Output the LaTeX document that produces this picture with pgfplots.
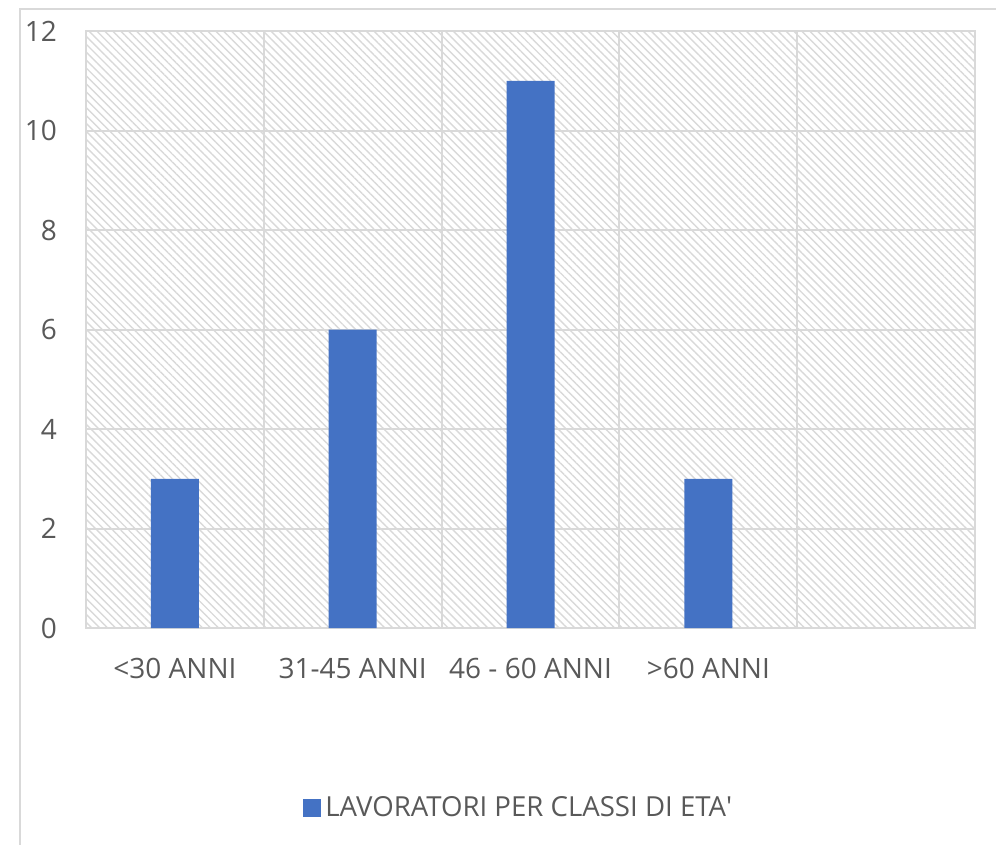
\documentclass[border=0pt]{standalone}
\usepackage{pgfplots}
\pgfplotsset{compat=1.18}
\usetikzlibrary{patterns.meta}
\usepackage{fontspec}
\setmainfont{Open Sans}
\definecolor{barblue}{HTML}{4472C4}
\definecolor{txt}{HTML}{595959}
\definecolor{gridc}{HTML}{D9D9D9}
\begin{document}
\begin{tikzpicture}
\useasboundingbox (0,0) rectangle (498pt,-422.5pt);
\draw[gridc, line width=1pt] (10pt,-422.5pt) -- (10pt,-4.5pt) -- (498pt,-4.5pt);
\begin{axis}[
  at={(43pt,-314pt)}, anchor=south west,
  scale only axis, width=444.5pt, height=298.5pt,
  ymin=0, ymax=12, ytick={0,2,4,6,8,10,12},
  xmin=-0.5, xmax=4.5,
  xtick={0,1,2,3},
  xticklabels={{<30 ANNI},{31-45 ANNI},{46 - 60 ANNI},{>60 ANNI}},
  minor xtick={0.5,1.5,2.5,3.5},
  xminorgrids, ymajorgrids,
  major grid style={gridc, line width=1pt},
  minor grid style={gridc, line width=1pt},
  axis line style={gridc, line width=1pt},
  major tick length=0pt, minor tick length=0pt,
  /pgf/number format/assume math mode=true,
  tick label style={font=\fontsize{14}{16}\selectfont, text=txt},
  yticklabel style={anchor=east, xshift=-11pt},
  xticklabel style={anchor=base, yshift=-25pt},
  axis background/.style={pattern={Lines[angle=-45,distance=2.8pt,line width=0.7pt]}, pattern color=gridc},
  ybar, bar width=24pt,
  legend style={at={(0.488,-0.3015)}, anchor=center, draw=none, fill=none,
    font=\fontsize{13.8}{16}\selectfont, text=txt},
  legend image code/.code={\fill[barblue] (0pt,-4.5pt) rectangle (9pt,4.5pt);},
]
\addplot[fill=barblue, draw=none] coordinates {(0,3) (1,6) (2,11) (3,3)};
\addlegendentry{LAVORATORI PER CLASSI DI ETA\textquotesingle}
\end{axis}
\end{tikzpicture}
\end{document}
